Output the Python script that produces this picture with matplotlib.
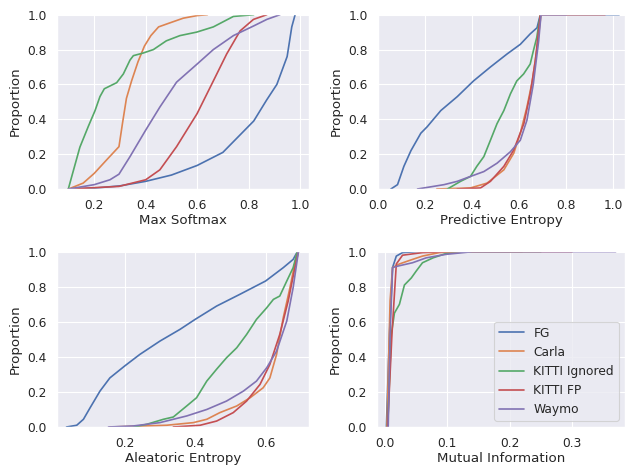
import matplotlib
matplotlib.use("Agg")
import matplotlib.pyplot as plt
import seaborn as sns

sns.set_theme(context="paper", style="darkgrid")

names = ["FG", "Carla", "KITTI Ignored", "KITTI FP", "Waymo"]
colors = sns.color_palette("deep", 5)

# ECDF curves: (x values, proportion values)
softmax = {
    "FG": ([0.10, 0.20, 0.30, 0.40, 0.50, 0.60, 0.70, 0.74, 0.82, 0.87, 0.91, 0.95, 0.968, 0.981],
           [0.0, 0.005, 0.018, 0.044, 0.08, 0.135, 0.21, 0.27, 0.39, 0.51, 0.60, 0.76, 0.93, 1.0]),
    "Carla": ([0.10, 0.157, 0.20, 0.248, 0.296, 0.31, 0.325, 0.345, 0.37, 0.395, 0.42, 0.45, 0.488, 0.546, 0.60, 0.64],
              [0.0, 0.034, 0.09, 0.167, 0.243, 0.38, 0.52, 0.62, 0.73, 0.82, 0.88, 0.93, 0.95, 0.98, 0.995, 1.0]),
    "KITTI Ignored": ([0.099, 0.112, 0.144, 0.177, 0.203, 0.222, 0.239, 0.287, 0.313, 0.339, 0.352, 0.39, 0.43, 0.48,
                       0.533, 0.598, 0.663, 0.715, 0.741, 0.82],
                      [0.0, 0.07, 0.24, 0.36, 0.45, 0.53, 0.575, 0.61, 0.66, 0.74, 0.765, 0.78, 0.80, 0.85,
                       0.88, 0.90, 0.93, 0.97, 0.99, 1.0]),
    "KITTI FP": ([0.10, 0.296, 0.40, 0.455, 0.52, 0.60, 0.663, 0.715, 0.767, 0.819, 0.871],
                 [0.0, 0.015, 0.053, 0.11, 0.243, 0.433, 0.62, 0.775, 0.907, 0.973, 1.0]),
    "Waymo": ([0.10, 0.20, 0.261, 0.296, 0.339, 0.40, 0.455, 0.52, 0.60, 0.663, 0.741, 0.819, 0.871, 0.922],
              [0.0, 0.025, 0.053, 0.085, 0.186, 0.338, 0.47, 0.613, 0.717, 0.80, 0.88, 0.935, 0.973, 1.0]),
}

pred_entropy = {
    "FG": ([0.055, 0.083, 0.11, 0.14, 0.182, 0.209, 0.267, 0.337, 0.406, 0.478, 0.549, 0.605, 0.647, 0.676, 0.69, 1.025],
           [0.0, 0.025, 0.13, 0.22, 0.32, 0.357, 0.45, 0.53, 0.62, 0.70, 0.775, 0.83, 0.89, 0.925, 1.0, 1.0]),
    "Carla": ([0.25, 0.393, 0.464, 0.535, 0.577, 0.605, 0.633, 0.656, 0.676, 0.693],
              [0.0, 0.006, 0.034, 0.11, 0.205, 0.32, 0.47, 0.62, 0.81, 1.0]),
    "KITTI Ignored": ([0.295, 0.351, 0.393, 0.42, 0.45, 0.478, 0.506, 0.535, 0.563, 0.59, 0.619, 0.647, 0.66, 0.675, 0.69],
                      [0.0, 0.044, 0.072, 0.13, 0.186, 0.28, 0.375, 0.45, 0.546, 0.62, 0.66, 0.717, 0.79, 0.87, 1.0]),
    "KITTI FP": ([0.337, 0.436, 0.478, 0.535, 0.577, 0.62, 0.647, 0.669, 0.69, 0.965],
                 [0.0, 0.006, 0.044, 0.13, 0.224, 0.375, 0.546, 0.736, 1.0, 1.0]),
    "Waymo": ([0.168, 0.281, 0.337, 0.393, 0.45, 0.506, 0.563, 0.605, 0.633, 0.66, 0.683, 0.693, 0.80],
              [0.0, 0.025, 0.044, 0.072, 0.10, 0.148, 0.214, 0.28, 0.394, 0.60, 0.85, 1.0, 1.0]),
}

alea_entropy = {
    "FG": ([0.035, 0.064, 0.083, 0.102, 0.13, 0.158, 0.20, 0.243, 0.30, 0.357, 0.40, 0.461, 0.527, 0.60, 0.65, 0.678, 0.69],
           [0.0, 0.01, 0.044, 0.11, 0.205, 0.28, 0.348, 0.414, 0.49, 0.557, 0.614, 0.69, 0.757, 0.833, 0.909, 0.956, 1.0]),
    "Carla": ([0.158, 0.319, 0.395, 0.433, 0.47, 0.518, 0.556, 0.593, 0.612, 0.631, 0.65, 0.669, 0.688, 0.693],
              [0.0, 0.01, 0.025, 0.044, 0.082, 0.12, 0.167, 0.224, 0.28, 0.414, 0.624, 0.795, 0.985, 1.0]),
    "KITTI Ignored": ([0.225, 0.262, 0.31, 0.338, 0.376, 0.404, 0.433, 0.461, 0.489, 0.518, 0.546, 0.574, 0.603, 0.622,
                       0.64, 0.66, 0.678, 0.69],
                      [0.0, 0.015, 0.044, 0.057, 0.12, 0.167, 0.262, 0.33, 0.395, 0.452, 0.528, 0.614, 0.68, 0.728,
                       0.747, 0.833, 0.909, 1.0]),
    "KITTI FP": ([0.338, 0.414, 0.461, 0.508, 0.546, 0.584, 0.612, 0.64, 0.664, 0.683, 0.693],
                 [0.0, 0.01, 0.034, 0.082, 0.148, 0.243, 0.357, 0.528, 0.719, 0.909, 1.0]),
    "Waymo": ([0.154, 0.225, 0.30, 0.376, 0.433, 0.489, 0.537, 0.574, 0.603, 0.631, 0.66, 0.678, 0.693],
              [0.0, 0.006, 0.025, 0.063, 0.10, 0.148, 0.205, 0.262, 0.338, 0.433, 0.605, 0.795, 1.0]),
}

mutual_info = {
    "FG": ([0.002, 0.007, 0.012, 0.018, 0.028, 0.05, 0.20],
           [0.0, 0.53, 0.91, 0.975, 0.995, 1.0, 1.0]),
    "Carla": ([0.003, 0.008, 0.012, 0.023, 0.039, 0.06, 0.087, 0.12, 0.22],
              [0.0, 0.72, 0.91, 0.93, 0.95, 0.975, 0.995, 1.0, 1.0]),
    "KITTI Ignored": ([0.004, 0.01, 0.015, 0.023, 0.031, 0.042, 0.05, 0.06, 0.077, 0.098, 0.13, 0.25],
                      [0.0, 0.53, 0.65, 0.70, 0.81, 0.85, 0.89, 0.937, 0.965, 0.99, 1.0, 1.0]),
    "KITTI FP": ([0.004, 0.011, 0.018, 0.028, 0.06, 0.10, 0.30],
                 [0.0, 0.53, 0.93, 0.98, 0.995, 1.0, 1.0]),
    "Waymo": ([0.005, 0.008, 0.012, 0.023, 0.044, 0.066, 0.098, 0.14, 0.37],
              [0.0, 0.53, 0.91, 0.92, 0.937, 0.965, 0.985, 1.0, 1.0]),
}

panels = [
    (softmax, "Max Softmax", (0.055, 1.035), [0.2, 0.4, 0.6, 0.8, 1.0], [57, 14, 309, 189]),
    (pred_entropy, "Predictive Entropy", (0.004, 1.05), [0.0, 0.2, 0.4, 0.6, 0.8, 1.0], [378, 14, 625, 189]),
    (alea_entropy, "Aleatoric Entropy", (0.008, 0.723), [0.2, 0.4, 0.6], [57, 251, 309, 427]),
    (mutual_info, "Mutual Information", (-0.013, 0.385), [0.0, 0.1, 0.2, 0.3], [377, 251, 625, 427]),
]

W, H = 626, 468
fig = plt.figure(figsize=(W / 100, H / 100), dpi=100)

for data, label, xlim, xticks, box in panels:
    x0, y0, x1, y1 = box
    ax = fig.add_axes([x0 / W, 1 - y1 / H, (x1 - x0) / W, (y1 - y0) / H])
    for name, c in zip(names, colors):
        xs, ys = data[name]
        ax.plot(xs, ys, color=c, lw=1.2, label=name)
    ax.set_xlim(*xlim)
    ax.set_ylim(0, 1.004)
    ax.set_xticks(xticks)
    ax.set_yticks([0.0, 0.2, 0.4, 0.6, 0.8, 1.0])
    ax.set_xlabel(label, fontsize=9.6, labelpad=1.5)
    ax.set_ylabel("Proportion", fontsize=9.6)
    ax.tick_params(labelsize=8.8, pad=2.4)

ax.legend(loc="lower right", fontsize=8.8)

fig.savefig("out.png", dpi=100)
